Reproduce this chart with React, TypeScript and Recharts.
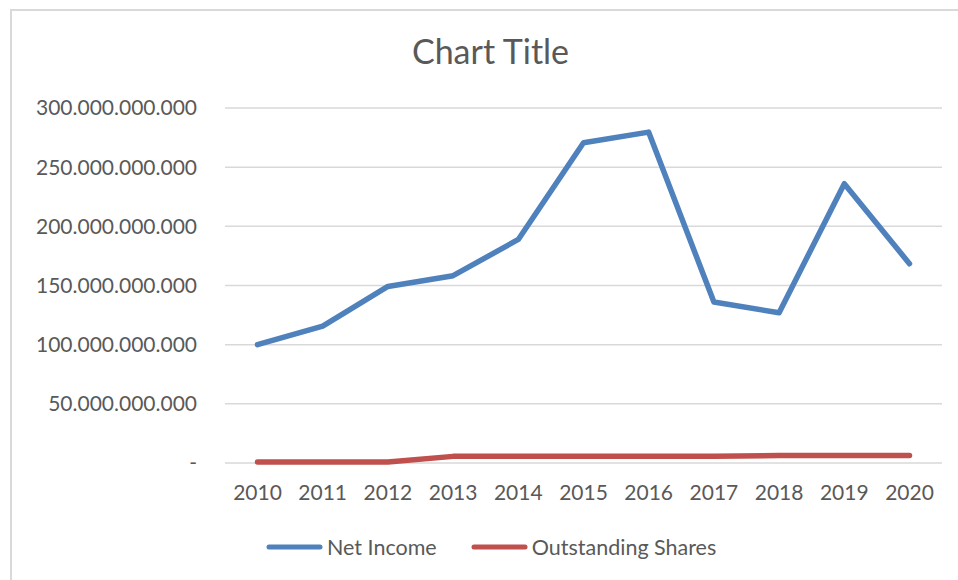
import React from 'react';
import { LineChart, Line, XAxis, YAxis, CartesianGrid, Legend } from 'recharts';

const years = ['2010', '2011', '2012', '2013', '2014', '2015', '2016', '2017', '2018', '2019', '2020'];
const netIncome = [100.0e9, 115.7e9, 149.2e9, 158.3e9, 188.9e9, 270.6e9, 279.6e9, 136.0e9, 127.0e9, 236.0e9, 168.4e9];
const outstandingShares = [0.9e9, 0.9e9, 0.9e9, 5.6e9, 5.6e9, 5.6e9, 5.6e9, 5.6e9, 6.4e9, 6.4e9, 6.4e9];
const yTicks = [0, 50e9, 100e9, 150e9, 200e9, 250e9, 300e9];
const seriesNames = ['Net Income', 'Outstanding Shares'];
const seriesColors = ['#4F81BD', '#C0504D'];

const data = years.map((y, i) => ({
  year: y,
  netIncome: netIncome[i],
  shares: outstandingShares[i],
}));

const FONT = 'Lato, "Open Sans", sans-serif';
const TEXT = '#595959';

const fmt = (v: number) => {
  if (v === 0) return '-';
  return Math.round(v).toString().replace(/\B(?=(\d{3})+(?!\d))/g, '.');
};

const renderLegend = (props: any) => {
  const payload = props.payload || [];
  return (
    <div style={{ display: 'flex', alignItems: 'center', height: 30, paddingLeft: 266, fontFamily: FONT, fontSize: 21.5, color: TEXT }}>
      {payload.map((p: any, i: number) => (
        <div key={i} style={{ display: 'flex', alignItems: 'center', marginRight: 34 }}>
          <svg width={57} height={10} style={{ marginRight: 4 }}>
            <line x1={3} y1={5} x2={54} y2={5} stroke={p.color} strokeWidth={5} strokeLinecap="round" />
          </svg>
          <span style={{ lineHeight: '30px' }}>{p.value}</span>
        </div>
      ))}
    </div>
  );
};

export default function App() {
  return (
    <div style={{ position: 'absolute', left: 0, top: 0, width: 958, height: 580, background: '#fff', overflow: 'hidden' }}>
      <div style={{ position: 'absolute', left: 10, top: 9, width: 1000, height: 700, borderLeft: '2px solid #d9d9d9', borderTop: '2px solid #d9d9d9', boxSizing: 'border-box' }} />
      <div style={{ position: 'absolute', left: 10, top: 34, width: 961, textAlign: 'center', fontFamily: FONT, fontSize: 34, lineHeight: '34px', color: TEXT }}>
        Chart Title
      </div>
      <div style={{ position: 'absolute', left: 0, top: 0 }}>
        <LineChart width={958} height={580} data={data} margin={{ top: 108, right: 16, left: 10, bottom: 18 }}>
          <CartesianGrid horizontal vertical={false} stroke="#d9d9d9" strokeWidth={1.5} />
          <XAxis
            dataKey="year"
            axisLine={false}
            tickLine={false}
            tickSize={0}
            tickMargin={22}
            height={69}
            interval={0}
            padding={{ left: 32.5, right: 32.5 }}
            tick={{ fill: TEXT, fontSize: 21, fontFamily: FONT }}
          />
          <YAxis
            domain={[0, 300e9]}
            ticks={yTicks}
            width={215}
            axisLine={false}
            tickLine={false}
            tickSize={0}
            tickMargin={28}
            tickFormatter={fmt}
            tick={{ fill: TEXT, fontSize: 21, fontFamily: FONT }}
          />
          <Legend verticalAlign="bottom" height={30} wrapperStyle={{ left: 0, width: 958 }} content={renderLegend} />
          <Line type="linear" dataKey="netIncome" name={seriesNames[0]} stroke={seriesColors[0]} strokeWidth={5.5} dot={false} strokeLinecap="round" strokeLinejoin="round" isAnimationActive={false} />
          <Line type="linear" dataKey="shares" name={seriesNames[1]} stroke={seriesColors[1]} strokeWidth={5.5} dot={false} strokeLinecap="round" strokeLinejoin="round" isAnimationActive={false} />
        </LineChart>
      </div>
    </div>
  );
}
